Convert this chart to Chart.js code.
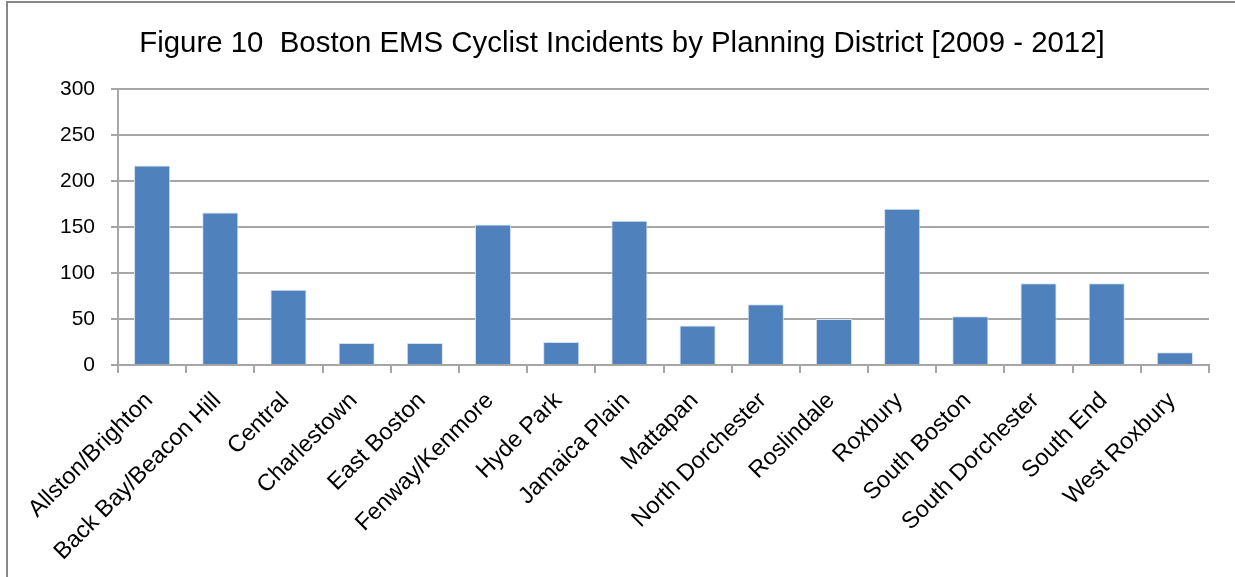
<!DOCTYPE html>
<html>
<head>
<meta charset="utf-8">
<script src="https://cdn.jsdelivr.net/npm/chart.js@4"></script>
<style>
  html, body { margin: 0; padding: 0; background: #fff; }
  #wrap { position: relative; width: 1235px; height: 577px; overflow: hidden; }
  #frame { position: absolute; left: 6px; top: 1px; width: 1300px; height: 700px;
           border-left: 2px solid #878787; border-top: 2px solid #878787; }
  canvas { position: absolute; left: 0; top: 0; }
</style>
</head>
<body>
<div id="wrap">
  <div id="frame"></div>
  <canvas id="c" width="1235" height="577"></canvas>
</div>
<script>
const titleText = "Figure 10  Boston EMS Cyclist Incidents by Planning District [2009 - 2012]";
const districts = ["Allston/Brighton", "Back Bay/Beacon Hill", "Central", "Charlestown", "East Boston",
  "Fenway/Kenmore", "Hyde Park", "Jamaica Plain", "Mattapan", "North Dorchester", "Roslindale",
  "Roxbury", "South Boston", "South Dorchester", "South End", "West Roxbury"];
const incidents = [217, 166, 82, 24, 24, 153, 25, 157, 43, 66, 50, 170, 53, 89, 89, 14];
const yTicks = [0, 50, 100, 150, 200, 250, 300];

const gridGray = '#a6a6a6';
new Chart(document.getElementById('c'), {
  type: 'bar',
  data: {
    labels: districts,
    datasets: [{
      data: incidents,
      backgroundColor: '#4f81bd',
      borderColor: '#d6e2f0',
      borderWidth: { top: 1, left: 1, right: 1, bottom: 0 },
      barPercentage: 0.53,
      categoryPercentage: 1.0
    }]
  },
  options: {
    responsive: false,
    animation: false,
    devicePixelRatio: 1,
    layout: { padding: { left: 35, right: 26, top: 0, bottom: 0 } },
    plugins: {
      legend: { display: false },
      tooltip: { enabled: false },
      title: {
        display: true,
        text: titleText,
        color: '#000',
        font: { family: 'Liberation Sans, Arial', size: 29.4, weight: 'normal' },
        padding: { top: 26, bottom: 28 }
      }
    },
    scales: {
      x: {
        afterFit: (axis) => { axis.height = 212; },
        grid: { display: true, drawOnChartArea: false, drawTicks: true, tickLength: 8,
                color: gridGray, lineWidth: 2, offset: true },
        border: { display: true, color: gridGray, width: 2 },
        ticks: { color: '#000', maxRotation: 45, minRotation: 45, autoSkip: false,
                 font: { family: 'Liberation Sans, Arial', size: 23.5 }, padding: 14, labelOffset: -3 }
      },
      y: {
        min: 0, max: 300,
        afterBuildTicks: (axis) => { axis.ticks = yTicks.map(v => ({ value: v })); },
        afterFit: (axis) => { axis.width = 83; },
        grid: { color: gridGray, lineWidth: 2, tickLength: 7 },
        border: { display: true, color: gridGray, width: 2 },
        ticks: { color: '#000', padding: 16,
                 font: { family: 'Liberation Sans, Arial', size: 21 } }
      }
    }
  }
});
</script>
</body>
</html>
